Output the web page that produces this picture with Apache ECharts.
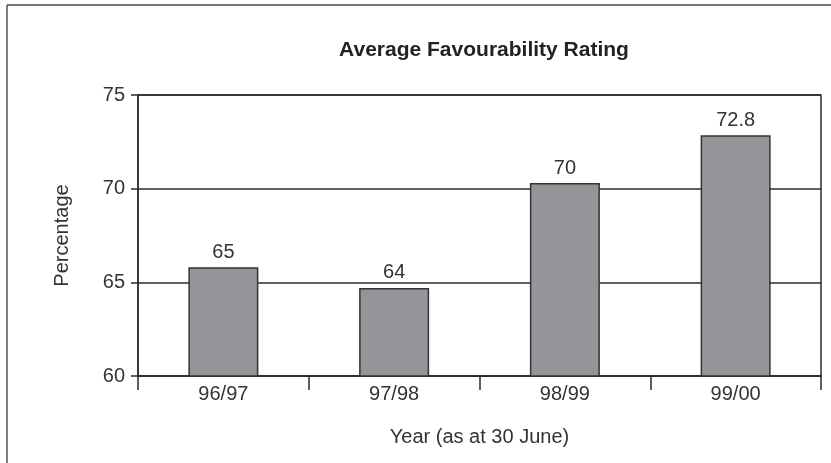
<!DOCTYPE html>
<html>
<head>
<meta charset="utf-8">
<script src="https://cdn.jsdelivr.net/npm/echarts@6/dist/echarts.min.js"></script>
<style>
html,body{margin:0;padding:0;background:#fff;}
#chart{width:831px;height:463px;}
</style>
</head>
<body>
<div id="chart"></div>
<script>
// data
var years = ['96/97', '97/98', '98/99', '99/00'];
var rating = [65.8, 64.7, 70.3, 72.85];       // bar heights as drawn
var ratingLabels = ['65', '64', '70', '72.8']; // printed values above bars
var yTicks = [60, 65, 70, 75];

var font = '"Liberation Sans", Arial, Helvetica, sans-serif';
var ink = '#333';

var dom = echarts.init(document.getElementById('chart'));
var option = {
	animation: false,
	backgroundColor: '#fff',
	title: {
		text: 'Average Favourability Rating',
		left: 479,
		top: 35,
		textAlign: 'center',
		textStyle: {fontFamily: font, fontSize: 21, fontWeight: 'bold', color: '#222'}
	},
	grid: {
		left: 138, right: 10, top: 95, bottom: 87,
		show: true, borderColor: '#2b2b2b', borderWidth: 1.5, backgroundColor: 'transparent'
	},
	xAxis: {
		type: 'category',
		data: years,
		boundaryGap: true,
		name: 'Year (as at 30 June)',
		nameLocation: 'middle',
		nameGap: 51,
		nameTextStyle: {fontFamily: font, fontSize: 20, color: ink},
		axisLine: {lineStyle: {color: '#2b2b2b', width: 1.5}},
		axisTick: {show: true, length: 14, lineStyle: {color: '#2b2b2b', width: 1.5}},
		axisLabel: {fontFamily: font, fontSize: 20, color: ink, margin: 8}
	},
	yAxis: {
		type: 'value',
		min: yTicks[0],
		max: yTicks[yTicks.length - 1],
		interval: 5,
		name: 'Percentage',
		nameLocation: 'middle',
		nameGap: 66,
		nameTextStyle: {fontFamily: font, fontSize: 20, color: ink},
		axisLine: {show: true, lineStyle: {color: '#2b2b2b', width: 1.5}},
		axisTick: {show: true, length: 7, lineStyle: {color: '#2b2b2b', width: 1.5}},
		axisLabel: {fontFamily: font, fontSize: 20, color: ink, margin: 13},
		splitLine: {show: true, lineStyle: {color: '#2b2b2b', width: 1.5}}
	},
	series: [{
		type: 'bar',
		data: rating,
		barWidth: 70,
		itemStyle: {color: '#939598', borderColor: '#333', borderWidth: 1.5},
		label: {
			show: true,
			position: 'top',
			distance: 5,
			fontFamily: font,
			fontSize: 20,
			color: ink,
			formatter: function (p) { return ratingLabels[p.dataIndex]; }
		}
	}],
	graphic: [
		{type: 'line', shape: {x1: 7, y1: 5, x2: 831, y2: 5}, style: {stroke: '#777', lineWidth: 2}},
		{type: 'line', shape: {x1: 7, y1: 5, x2: 7, y2: 463}, style: {stroke: '#555', lineWidth: 1.5}}
	]
};
dom.setOption(option);
</script>
</body>
</html>
